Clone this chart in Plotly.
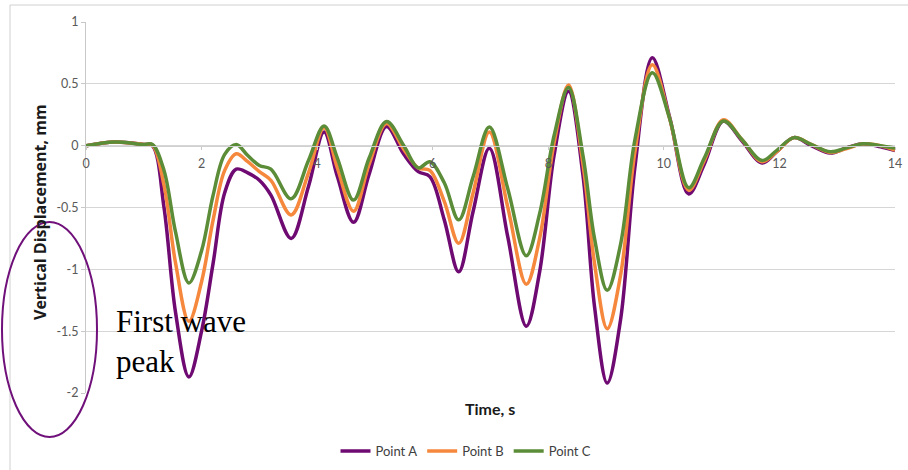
import plotly.graph_objects as go

# Sample times (s) and vertical displacement (mm) at three points
time_s = [0, 0.5, 1.0, 1.15, 1.35, 1.55, 1.78, 2.0, 2.2, 2.4, 2.6, 2.8, 3.0, 3.2,
          3.55, 3.85, 4.12, 4.35, 4.63, 4.9, 5.2, 5.5, 5.75, 5.95, 6.2, 6.45, 6.7,
          6.98, 7.3, 7.62, 7.85, 8.1, 8.35, 8.6, 8.8, 9.02, 9.25, 9.5, 9.8, 10.1,
          10.43, 10.7, 11.03, 11.35, 11.7, 11.95, 12.25, 12.55, 12.88, 13.15,
          13.45, 13.75, 14.0]

point_a = [0, 0.03, 0.01, 0.0, -0.5, -1.35, -1.87, -1.5, -0.95, -0.38, -0.19,
           -0.22, -0.28, -0.4, -0.75, -0.33, 0.11, -0.25, -0.62, -0.23, 0.155,
           -0.07, -0.21, -0.25, -0.6, -1.02, -0.53, -0.02, -0.74, -1.46, -1.02,
           -0.08, 0.44, -0.24, -1.3, -1.92, -1.41, -0.17, 0.71, 0.23, -0.39,
           -0.15, 0.2, 0.04, -0.14, -0.05, 0.065, 0.0, -0.06, -0.02, 0.015,
           -0.01, -0.04]

point_b = [0, 0.03, 0.01, 0.005, -0.32, -0.95, -1.42, -1.1, -0.6, -0.2, -0.065,
           -0.13, -0.21, -0.28, -0.56, -0.22, 0.145, -0.18, -0.53, -0.15, 0.18,
           -0.03, -0.18, -0.2, -0.45, -0.79, -0.38, 0.11, -0.5, -1.12, -0.75,
           0.02, 0.49, -0.15, -0.95, -1.48, -1.05, -0.05, 0.655, 0.22, -0.36,
           -0.12, 0.21, 0.05, -0.13, -0.05, 0.065, 0.01, -0.055, -0.025, 0.015,
           0.0, -0.035]

point_c = [0, 0.03, 0.01, 0.01, -0.2, -0.7, -1.11, -0.85, -0.4, -0.07, 0.01,
           -0.08, -0.16, -0.19, -0.43, -0.12, 0.16, -0.1, -0.44, -0.1, 0.195,
           0.0, -0.18, -0.13, -0.3, -0.6, -0.25, 0.15, -0.35, -0.89, -0.55,
           0.08, 0.47, -0.08, -0.75, -1.17, -0.8, 0.05, 0.59, 0.22, -0.34,
           -0.1, 0.2, 0.05, -0.12, -0.04, 0.065, 0.01, -0.05, -0.02, 0.015,
           0.0, -0.02]

series_names = ["Point A", "Point B", "Point C"]
series_colors = ["#6E0A72", "#F5883C", "#5B8C37"]

x_ticks = [0, 2, 4, 6, 8, 10, 12, 14]
y_ticks = [1, 0.5, 0, -0.5, -1, -1.5, -2]
y_tick_text = ["1", "0.5", "0", "-0.5", "-1", "-1.5", "-2"]

W, H = 908, 470
px = lambda v: v / W
py = lambda v: (H - v) / H

SANS = "Lato, Open Sans, sans-serif"

fig = go.Figure()
for name, vals, col in zip(series_names, [point_a, point_b, point_c], series_colors):
    fig.add_trace(go.Scatter(
        x=time_s, y=vals, name=name, mode="lines",
        line=dict(color=col, width=3.5, shape="spline", smoothing=1.0),
    ))

tick_font = dict(family=SANS, size=12.5, color="#595959")

fig.update_layout(
    width=W, height=H,
    margin=dict(l=0, r=0, t=0, b=0, autoexpand=False),
    paper_bgcolor="white", plot_bgcolor="white",
    showlegend=True,
    legend=dict(orientation="h", x=px(466), xanchor="center", y=py(451),
                yanchor="middle", font=dict(family=SANS, size=13, color="#404040"),
                itemwidth=30, tracegroupgap=0, bgcolor="rgba(0,0,0,0)"),
    xaxis=dict(
        domain=[px(86), px(895)], range=[0, 14],
        tickvals=x_ticks, showgrid=False, zeroline=False,
        anchor="free", position=py(146),
        showline=True, linecolor="#D0D0D0", linewidth=1,
        ticks="outside", ticklen=3, tickcolor="#C8C8C8",
        tickfont=tick_font, ticklabelstandoff=3,
    ),
    yaxis=dict(
        domain=[py(393), py(22)], range=[-2, 1],
        tickvals=y_ticks, ticktext=y_tick_text,
        showgrid=True, gridcolor="#D6D6D6", gridwidth=1, zeroline=False,
        showline=True, linecolor="#C8C8C8", linewidth=1,
        ticks="outside", ticklen=4, tickcolor="#C8C8C8",
        tickfont=tick_font,
    ),
)

# Axis titles
fig.add_annotation(text="<b>Vertical Displacement, mm</b>", xref="paper", yref="paper",
                   x=px(40), y=py(212), xanchor="center", yanchor="middle",
                   textangle=-90, showarrow=False,
                   font=dict(family="Open Sans, sans-serif", size=16, color="#1a1a1a"))
fig.add_annotation(text="<b>Time, s</b>", xref="paper", yref="paper",
                   x=px(490), y=py(408), xanchor="center", yanchor="middle",
                   showarrow=False,
                   font=dict(family=SANS, size=16, color="#1a1a1a"))

# Callout text and ellipse around the y axis labels
fig.add_annotation(text="First wave<br>peak", xref="paper", yref="paper",
                   x=px(114), y=py(341), xanchor="left", yanchor="middle",
                   align="left", showarrow=False,
                   font=dict(family="Liberation Serif, Times New Roman, serif",
                             size=31, color="black"))
fig.add_shape(type="circle", xref="paper", yref="paper",
              x0=px(2), x1=px(97), y0=py(437), y1=py(222),
              line=dict(color="#70107A", width=2))

# Chart frame
fig.add_shape(type="rect", xref="paper", yref="paper",
              x0=px(10), x1=1.05, y0=-0.05, y1=py(5),
              line=dict(color="#D0D0D0", width=1), layer="below")

fig.write_html("out.html")
